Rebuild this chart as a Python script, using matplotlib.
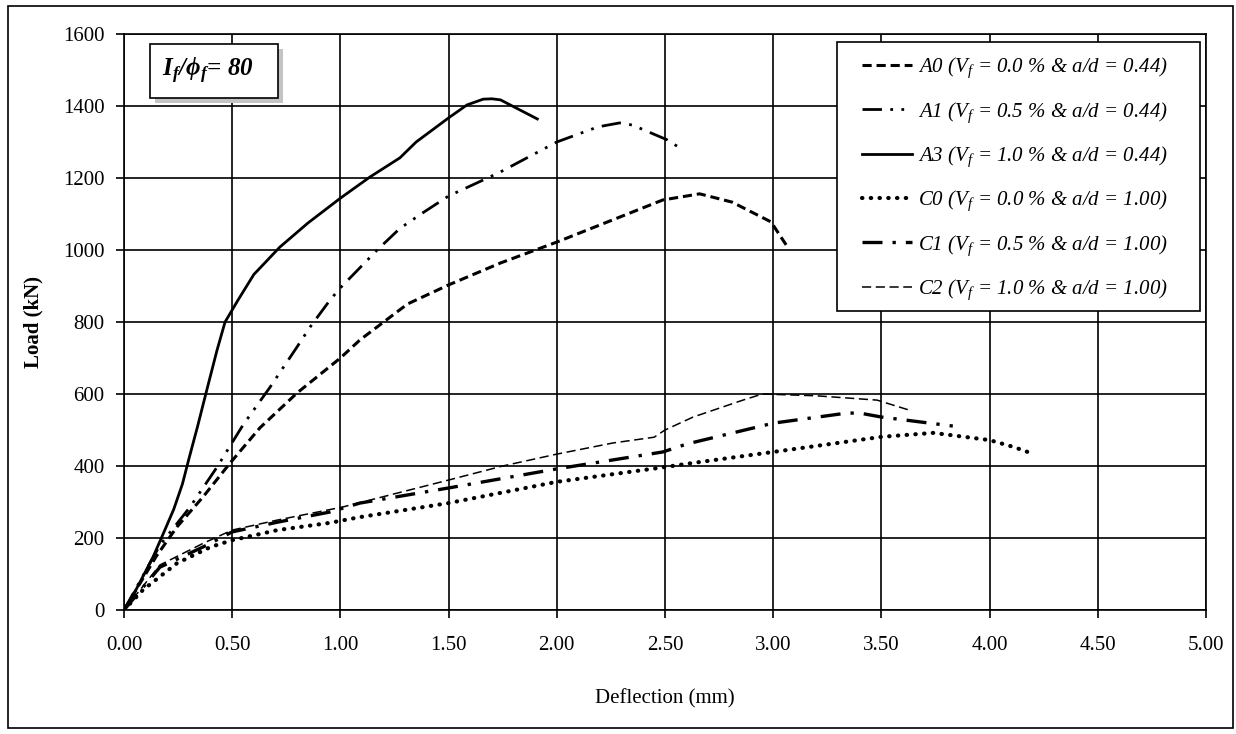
import matplotlib
matplotlib.use('Agg')
import matplotlib.pyplot as plt
from matplotlib.patches import Rectangle

plt.rcParams['font.family'] = ['Liberation Serif', 'DejaVu Serif']
plt.rcParams['mathtext.fontset'] = 'custom'
plt.rcParams['mathtext.rm'] = 'Liberation Serif'
plt.rcParams['mathtext.it'] = 'Liberation Serif:italic'
plt.rcParams['mathtext.bf'] = 'Liberation Serif:bold:italic'

# load-deflection curves, deflection in mm, load in kN
a0_x = [0, 0.15, 0.245, 0.365, 0.49, 0.628, 0.80, 1.0, 1.09, 1.2, 1.31, 1.5,
        1.74, 2.0, 2.49, 2.66, 2.81, 2.99, 3.06]
a0_y = [0, 150, 231, 314, 408, 506, 603, 700, 750, 800, 850, 903,
        964, 1022, 1139, 1156, 1133, 1078, 1014]

a1_x = [0, 0.166, 0.305, 0.43, 0.55, 0.675, 0.80, 0.86, 0.952, 1.0, 1.17,
        1.275, 1.38, 1.5, 1.68, 1.74, 2.0, 2.19, 2.29, 2.35, 2.51, 2.57]
a1_y = [0, 180, 286, 397, 514, 619, 731, 786, 861, 895, 1000,
        1060, 1103, 1150, 1200, 1217, 1300, 1342, 1353, 1347, 1306, 1283]

a3_x = [0, 0.05, 0.134, 0.18, 0.23, 0.27, 0.30, 0.34, 0.38, 0.43, 0.467,
        0.527, 0.6, 0.72, 0.85, 1.0, 1.137, 1.275, 1.35, 1.5, 1.585, 1.66,
        1.70, 1.74, 1.82, 1.91]
a3_y = [0, 50, 147, 210, 280, 350, 420, 510, 605, 722, 800,
        861, 932, 1008, 1075, 1144, 1203, 1256, 1300, 1367, 1403, 1419,
        1420, 1417, 1392, 1364]

c0_x = [0, 0.088, 0.245, 0.40, 0.5, 0.71, 0.95, 1.09, 1.5, 2.0, 2.5, 2.6,
        3.0, 3.5, 3.74, 4.0, 4.11, 4.19]
c0_y = [0, 56, 130, 175, 194, 222, 242, 258, 297, 356, 397, 406,
        439, 481, 492, 472, 453, 436]

c1_x = [0, 0.166, 0.365, 0.5, 0.71, 0.95, 1.09, 1.5, 2.0, 2.49, 2.6, 3.0,
        3.34, 3.4, 3.5, 3.83]
c1_y = [0, 119, 175, 217, 244, 272, 297, 339, 392, 439, 461, 519,
        547, 547, 536, 511]

c2_x = [0, 0.166, 0.365, 0.5, 0.71, 1.01, 1.5, 1.75, 2.0, 2.26, 2.45, 2.5,
        2.63, 2.86, 2.95, 3.2, 3.48, 3.63]
c2_y = [0, 125, 185, 222, 250, 286, 361, 400, 433, 464, 480, 500,
        536, 583, 600, 595, 583, 555]

labels = [r"A0 ($V_f$ = 0.0 % & a/d = 0.44)",
          r"A1 ($V_f$ = 0.5 % & a/d = 0.44)",
          r"A3 ($V_f$ = 1.0 % & a/d = 0.44)",
          r"C0 ($V_f$ = 0.0 % & a/d = 1.00)",
          r"C1 ($V_f$ = 0.5 % & a/d = 1.00)",
          r"C2 ($V_f$ = 1.0 % & a/d = 1.00)"]

x_ticks = [0, 0.5, 1.0, 1.5, 2.0, 2.5, 3.0, 3.5, 4.0, 4.5, 5.0]
y_ticks = [0, 200, 400, 600, 800, 1000, 1200, 1400, 1600]

W, H = 1236, 734
fig = plt.figure(figsize=(W / 100, H / 100), dpi=100)
ax = fig.add_axes([124 / W, 124 / H, 1082 / W, 576 / H])


def px_box(left, top, right, bottom, **kw):
    # rectangle given in image pixels (origin top-left)
    return Rectangle((left, H - bottom), right - left, bottom - top,
                     transform=None, **kw)


# outer frame around the whole figure
fig.patches.append(Rectangle((8 / W, 6 / H), 1225 / W, 722 / H,
                             transform=fig.transFigure, fill=False,
                             edgecolor='black', linewidth=1.2))

ax.plot(a0_x, a0_y, color='black', lw=2.2, linestyle=(0, (3, 1.6)), label=labels[0])
ax.plot(a1_x, a1_y, color='black', lw=2.0, linestyle=(0, (7, 3, 1, 3, 1, 3)), label=labels[1])
ax.plot(a3_x, a3_y, color='black', lw=2.0, linestyle='-', label=labels[2])
ax.plot(c0_x, c0_y, color='black', lw=3.0, linestyle=(0, (0.1, 2)),
        dash_capstyle='round', label=labels[3])
ax.plot(c1_x, c1_y, color='black', lw=2.4, linestyle=(0, (6, 3, 1, 3)), label=labels[4])
ax.plot(c2_x, c2_y, color='black', lw=1.1, linestyle=(0, (6, 3)), label=labels[5])

ax.set_xlim(0, 5)
ax.set_ylim(0, 1600)
ax.set_xticks(x_ticks)
ax.set_xticklabels(["%.2f" % t for t in x_ticks])
ax.set_yticks(y_ticks)
ax.grid(True, color='black', linewidth=1.2)
ax.set_axisbelow(True)
for s in ax.spines.values():
    s.set_linewidth(1.2)
ax.tick_params(direction='out', length=6, width=1.2, labelsize=15)
ax.tick_params(axis='x', pad=13)
ax.tick_params(axis='y', pad=8)

ax.set_xlabel("Deflection (mm)", fontsize=15, labelpad=24)
ax.set_ylabel("Load (kN)", fontsize=15, fontweight='bold', labelpad=14)

# legend box drawn separately for the wider side padding
ax.add_patch(px_box(837, 42, 1200, 311, facecolor='white',
                    edgecolor='black', linewidth=1.2, zorder=4))
leg = ax.legend(loc='upper left', bbox_to_anchor=(862 / W, 1 - 56 / H),
                bbox_transform=fig.transFigure, frameon=False,
                prop={'family': 'Liberation Serif', 'style': 'italic', 'size': 15},
                handlelength=2.4, handletextpad=0.3, labelspacing=0.95,
                borderpad=0, borderaxespad=0)
leg.set_zorder(5)

# fibre aspect ratio box with a soft shadow
ax.add_patch(px_box(155, 49, 283, 103, facecolor='#c4c4c4',
                    edgecolor='none', zorder=4))
ax.add_patch(px_box(150, 44, 278, 98, facecolor='white',
                    edgecolor='black', linewidth=1.2, zorder=4))
fig.text(208 / W, 1 - 71 / H, r"$\mathbf{I_f/\phi_f}$= 80", fontsize=18,
         fontweight='bold', style='italic', ha='center', va='center', zorder=6)

fig.savefig("out.png", dpi=100)
